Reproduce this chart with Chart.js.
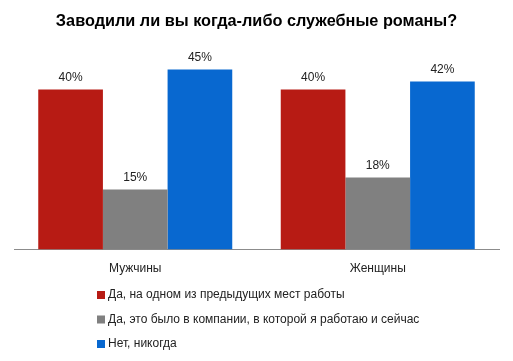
<!DOCTYPE html>
<html>
<head>
<meta charset="utf-8">
<script src="https://cdn.jsdelivr.net/npm/chart.js@4"></script>
<style>
  html, body { margin: 0; padding: 0; background: #fff; }
  #wrap { width: 513px; height: 361px; }
</style>
</head>
<body>
<div id="wrap"><canvas id="chartRomanos"></canvas></div>
<script>
const categorias = ['Мужчины', 'Женщины']
const previos = [40, 40]
const actual = [15, 18]
const nunca = [45, 42]
const series = [
    'Да, на одном из предыдущих мест работы',
    'Да, это было в компании, в которой я работаю и сейчас',
    'Нет, никогда'
]
const colores = ['#B71B14', '#808080', '#0868D0']

const fuente = "'Liberation Sans', Arial, sans-serif"

// etiquetas de valor sobre cada barra
const etiquetas = {
    id: 'etiquetas',
    afterDatasetsDraw(chart) {
        const ctx = chart.ctx
        ctx.save()
        ctx.font = `12px ${fuente}`
        ctx.fillStyle = '#222'
        ctx.textAlign = 'center'
        ctx.textBaseline = 'middle'
        chart.data.datasets.forEach((ds, i) => {
            chart.getDatasetMeta(i).data.forEach((bar, j) => {
                ctx.fillText(ds.data[j] + '%', bar.x, bar.y - 12)
            })
        })
        ctx.restore()
    }
}

// leyenda vertical bajo el eje
const leyenda = {
    id: 'leyenda',
    afterDraw(chart) {
        const ctx = chart.ctx
        ctx.save()
        ctx.font = `12px ${fuente}`
        ctx.textBaseline = 'middle'
        chart.data.datasets.forEach((ds, i) => {
            const y = 295 + i * 24.5
            ctx.fillStyle = ds.backgroundColor
            ctx.fillRect(97, y - 4, 8, 8)
            ctx.fillStyle = '#222'
            ctx.fillText(ds.label, 108, y)
        })
        ctx.restore()
    }
}

const chartRomanos = new Chart(document.getElementById('chartRomanos'), {
    type: 'bar',
    data: {
        labels: categorias,
        datasets: [
            { label: series[0], data: previos, backgroundColor: colores[0] },
            { label: series[1], data: actual, backgroundColor: colores[1] },
            { label: series[2], data: nunca, backgroundColor: colores[2] }
        ]
    },
    options: {
        responsive: true,
        maintainAspectRatio: false,
        animation: false,
        datasets: {
            bar: { categoryPercentage: 0.8, barPercentage: 1.0 }
        },
        layout: { padding: { left: 14, right: 14, top: 0, bottom: 81 } },
        plugins: {
            legend: { display: false },
            tooltip: { enabled: false },
            title: {
                display: true,
                text: 'Заводили ли вы когда-либо служебные романы?',
                color: '#000',
                font: { family: fuente, size: 16.3, weight: 'bold' },
                padding: { top: 12, bottom: 18 }
            }
        },
        scales: {
            x: {
                grid: { display: false },
                border: { display: true, color: '#8c8c8c', width: 1 },
                ticks: { color: '#222', font: { family: fuente, size: 12 }, padding: 4 }
            },
            y: {
                display: false,
                min: 0,
                max: 50
            }
        }
    },
    plugins: [etiquetas, leyenda]
})
</script>
</body>
</html>
